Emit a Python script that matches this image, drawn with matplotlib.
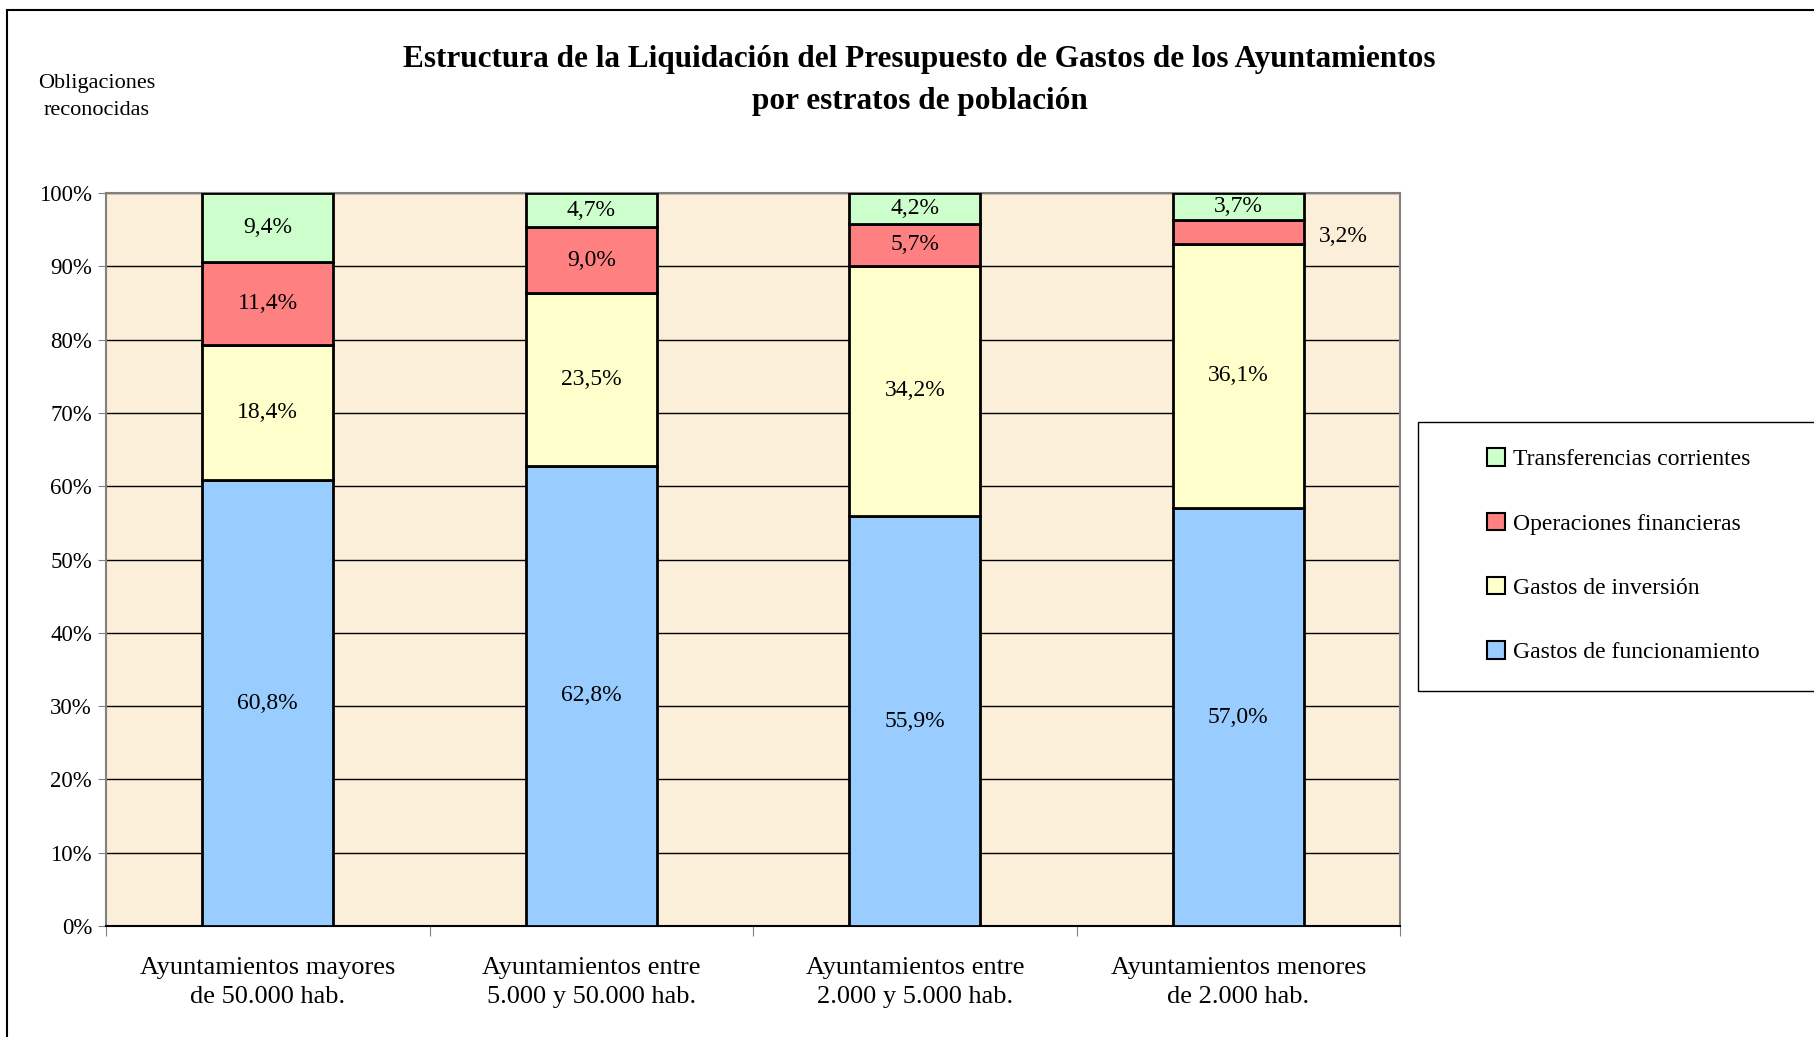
import numpy as np
import matplotlib.pyplot as plt
from matplotlib.patches import Rectangle, Patch

plt.rcParams['font.family'] = ['Liberation Serif', 'DejaVu Serif']

categorias = ["Ayuntamientos mayores\nde 50.000 hab.",
              "Ayuntamientos entre\n5.000 y 50.000 hab.",
              "Ayuntamientos entre\n2.000 y 5.000 hab.",
              "Ayuntamientos menores\nde 2.000 hab."]
funcionamiento = [60.8, 62.8, 55.9, 57.0]
inversion = [18.4, 23.5, 34.2, 36.1]
financieras = [11.4, 9.0, 5.7, 3.2]
transferencias = [9.4, 4.7, 4.2, 3.7]

series = [("Gastos de funcionamiento", funcionamiento, "#99CCFF"),
          ("Gastos de inversión", inversion, "#FFFFCC"),
          ("Operaciones financieras", financieras, "#FF8080"),
          ("Transferencias corrientes", transferencias, "#CCFFCC")]

W, H = 1814, 1037
fig = plt.figure(figsize=(W / 100, H / 100), dpi=100)
ax = fig.add_axes([106 / W, 1 - 926 / H, (1400 - 106) / W, (926 - 193) / H])
ax.set_facecolor("#FCEFD9")

x = np.arange(len(categorias))
bottom = np.zeros(len(categorias))
for nombre, vals, color in series:
    vals = np.array(vals)
    ax.bar(x, vals, 0.405, bottom=bottom, color=color, edgecolor="black",
           linewidth=2, zorder=3)
    for i, v in enumerate(vals):
        if nombre == "Operaciones financieras" and i == 3:
            # etiqueta fuera de la barra
            ax.text(i + 0.325, bottom[i] + v / 2 - 0.6, "3,2%", ha="center", va="center",
                    fontsize=17, zorder=4)
        else:
            ax.text(i, bottom[i] + v / 2, f"{v:.1f}%".replace(".", ","),
                    ha="center", va="center", fontsize=17, zorder=4)
    bottom += vals

ax.set_xlim(-0.5, len(categorias) - 0.5)
ax.set_ylim(0, 100)
ax.set_yticks(np.arange(0, 101, 10))
ax.set_yticklabels([f"{v}%" for v in range(0, 101, 10)], fontsize=16.5)
ax.yaxis.grid(True, color="black", linewidth=1, zorder=1)
ax.set_axisbelow(True)

ax.set_xticks(np.arange(-0.5, len(categorias), 1))
ax.set_xticklabels([])
ax.set_xticks(x, minor=True)
ax.set_xticklabels(categorias, minor=True, fontsize=19, linespacing=1.45)
ax.tick_params(axis="x", which="minor", length=0, pad=22)
ax.tick_params(axis="x", which="major", length=7, color="#808080", direction="out")
ax.tick_params(axis="y", length=6, color="#808080", pad=4)

for s in ["top", "right", "left"]:
    ax.spines[s].set_color("#808080")
    ax.spines[s].set_linewidth(1.5)
ax.spines["bottom"].set_color("black")
ax.spines["bottom"].set_linewidth(1.5)

fig.text(795 / 1568, 1 - 51 / 896,
         "Estructura de la Liquidación del Presupuesto de Gastos de los Ayuntamientos",
         ha="center", va="center", fontsize=22.5, fontweight="bold")
fig.text(795 / 1568, 1 - 88 / 896, "por estratos de población",
         ha="center", va="center", fontsize=22.5, fontweight="bold")
fig.text(97 / W, 1 - 97 / H, "Obligaciones\nreconocidas", ha="center", va="center",
         fontsize=16, linespacing=1.55)

# marco exterior
fig.patches.append(Rectangle((7 / W, -0.1), 1.2, 1.1 - 10 / H, transform=fig.transFigure,
                             fill=False, edgecolor="black", linewidth=1.5))
# caja de la leyenda
fig.patches.append(Rectangle((1418 / W, 1 - 691 / H), 0.5, (691 - 422) / H,
                             transform=fig.transFigure, fill=False,
                             edgecolor="black", linewidth=1))

handles = [Patch(facecolor=c, edgecolor="black", linewidth=1.5, label=n)
           for n, _, c in reversed(series)]
fig.legend(handles=handles, loc="upper left", bbox_to_anchor=(1466 / W, 1 - 427 / H),
           frameon=False, fontsize=17, handlelength=0.75, handleheight=0.75,
           handletextpad=0.35, labelspacing=1.8)

fig.savefig("out.png", dpi=100)
